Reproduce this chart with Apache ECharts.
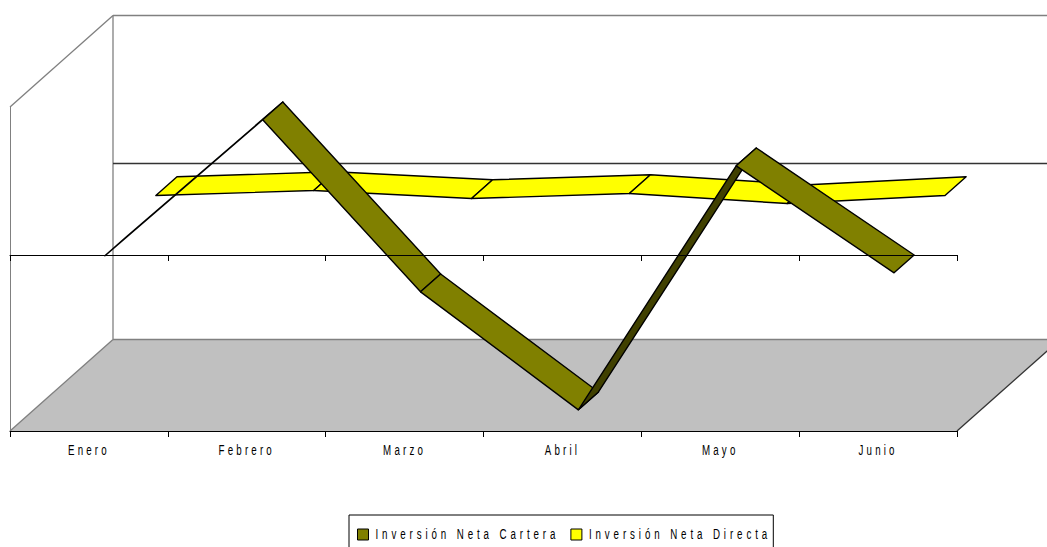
<!DOCTYPE html>
<html><head><meta charset="utf-8">
<style>html,body{margin:0;padding:0;background:#fff;overflow:hidden}
#c{width:1047px;height:547px}
svg text{letter-spacing:4.9px}</style>
<script src="https://cdn.jsdelivr.net/npm/echarts@6/dist/echarts.min.js"></script>
</head><body><div id="c"></div>
<script>
const categories = ['Enero','Febrero','Marzo','Abril','Mayo','Junio'];
const cartera = [-15, 121, -51, -169, 75, -32];
const directa = [0, 5, -3, 2, -8, 0];
const nameCartera = 'Inversión Neta Cartera';
const nameDirecta = 'Inversión Neta Directa';

const depth = [103, -91.5];
const font = 'Liberation Sans, Arial, sans-serif';

function ribbon(values, d0, d1, color, dark){
  return function(params, api){
    const i = params.dataIndex;
    if (i >= values.length - 1) return {type:'group', children:[]};
    const a = api.coord([i, values[i]]), b = api.coord([i + 1, values[i + 1]]);
    const off = d => [depth[0] * d, depth[1] * d];
    const o0 = off(d0), o1 = off(d1);
    const p = [[a[0]+o0[0],a[1]+o0[1]],[b[0]+o0[0],b[1]+o0[1]],[b[0]+o1[0],b[1]+o1[1]],[a[0]+o1[0],a[1]+o1[1]]];
    const ux = p[1][0]-p[0][0], uy = p[1][1]-p[0][1], vx = p[3][0]-p[0][0], vy = p[3][1]-p[0][1];
    const under = ux*vy - uy*vx > 0;
    return {type:'polygon', shape:{points:p}, z2:i,
      style:{fill: under ? dark : color, stroke:'#000', lineWidth:1.4, lineJoin:'round'}};
  };
}
function room(params, api){
  const c = params.coordSys, dx = depth[0], dy = depth[1];
  const x0=c.x, x1=c.x+c.width, y0=c.y, y1=c.y+c.height, yz=api.coord([0,0])[1];
  const line=(a,b,s)=>({type:'line',shape:{x1:a[0],y1:a[1],x2:b[0],y2:b[1]},style:{stroke:s,lineWidth:1.3}});
  return {type:'group',children:[
    {type:'polygon',shape:{points:[[x0,y1],[x0+dx,y1+dy],[x1+dx,y1+dy],[x1,y1]]},style:{fill:'#C0C0C0',stroke:'none'}},
    line([x0,y1],[x0+dx,y1+dy],'#808080'),
    line([x0+dx,y1+dy],[x1+dx,y1+dy],'#808080'),
    line([x1,y1],[x1+dx,y1+dy],'#333'),
    line([x0,y0],[x0+dx,y0+dy],'#808080'),
    line([x0+dx,y0+dy],[x0+dx,y1+dy],'#808080'),
    line([x0+dx,y0+dy],[x1+dx,y0+dy],'#808080'),
    line([x0+dx,yz+dy],[x1+dx,yz+dy],'#333')
  ]};
}
const chart = echarts.init(document.getElementById('c'), null, {renderer:'svg'});
function narrowText(){
  const s = 0.65;
  document.querySelectorAll('#c svg text').forEach(t=>{
    if (t.dataset.narrow) return;
    t.dataset.narrow = '1';
    const isLegend = t.textContent === nameCartera || t.textContent === nameDirecta;
    t.style.letterSpacing = (isLegend ? 6 : 4.9) + 'px';
    const tr = t.getAttribute('transform') || '';
    const x = parseFloat(t.getAttribute('x')) || 0;
    t.setAttribute('transform', tr + ' translate(' + (x * (1 - s)) + ' 0) scale(' + s + ' 1)');
  });
}
chart.on('finished', narrowText);
chart.setOption({
  animation:false,
  backgroundColor:'#fff',
  grid:{left:10,right:90,top:107,bottom:116,containLabel:false},
  legend:{
    data:[nameCartera,nameDirecta], left:349, top:515, orient:'horizontal',
    padding:[12,36,30,8], itemWidth:11, itemHeight:11, itemGap:44, icon:'rect',
    borderColor:'#000', borderWidth:1, backgroundColor:'#fff',
    selectedMode:false,
    textStyle:{fontFamily:font,fontSize:15,color:'#000',padding:[0,0,0,2]},
    itemStyle:{borderColor:'#000',borderWidth:1}
  },
  xAxis:[
    {type:'category',data:categories,position:'bottom',z:10,
      axisLine:{onZero:false,lineStyle:{color:'#000',width:1}},
      axisTick:{show:true,length:6,alignWithLabel:false,lineStyle:{color:'#000'}},
      axisLabel:{fontFamily:font,fontSize:15,color:'#000',margin:12},
      splitLine:{show:false}},
    {type:'category',data:categories,position:'bottom',z:10,
      axisLine:{onZero:true,lineStyle:{color:'#000',width:1}},
      axisTick:{show:true,length:6,lineStyle:{color:'#000'}},
      axisLabel:{show:false},splitLine:{show:false}}
  ],
  yAxis:{type:'value',min:-176,max:148,
    axisLine:{show:true,onZero:false,lineStyle:{color:'#808080'}},
    axisTick:{show:false},axisLabel:{show:false},splitLine:{show:false}},
  series:[
    {type:'custom',name:'room',silent:true,z:1,data:[[0,0]],renderItem:room,encode:{x:0,y:1}},
    {type:'custom',name:nameDirecta,z:3,itemStyle:{color:'#FFFF00'},
      data:directa.map((v,i)=>[i,v]),encode:{x:0,y:1},renderItem:ribbon(directa,0.65,0.855,'#FFFF00','#808000')},
    {type:'custom',name:nameCartera,z:4,itemStyle:{color:'#808000'},
      data:cartera.map((v,i)=>[i,v]),encode:{x:0,y:1},renderItem:ribbon(cartera,0.155,0.35,'#808000','#404000')}
  ]
});
narrowText();
</script></body></html>
